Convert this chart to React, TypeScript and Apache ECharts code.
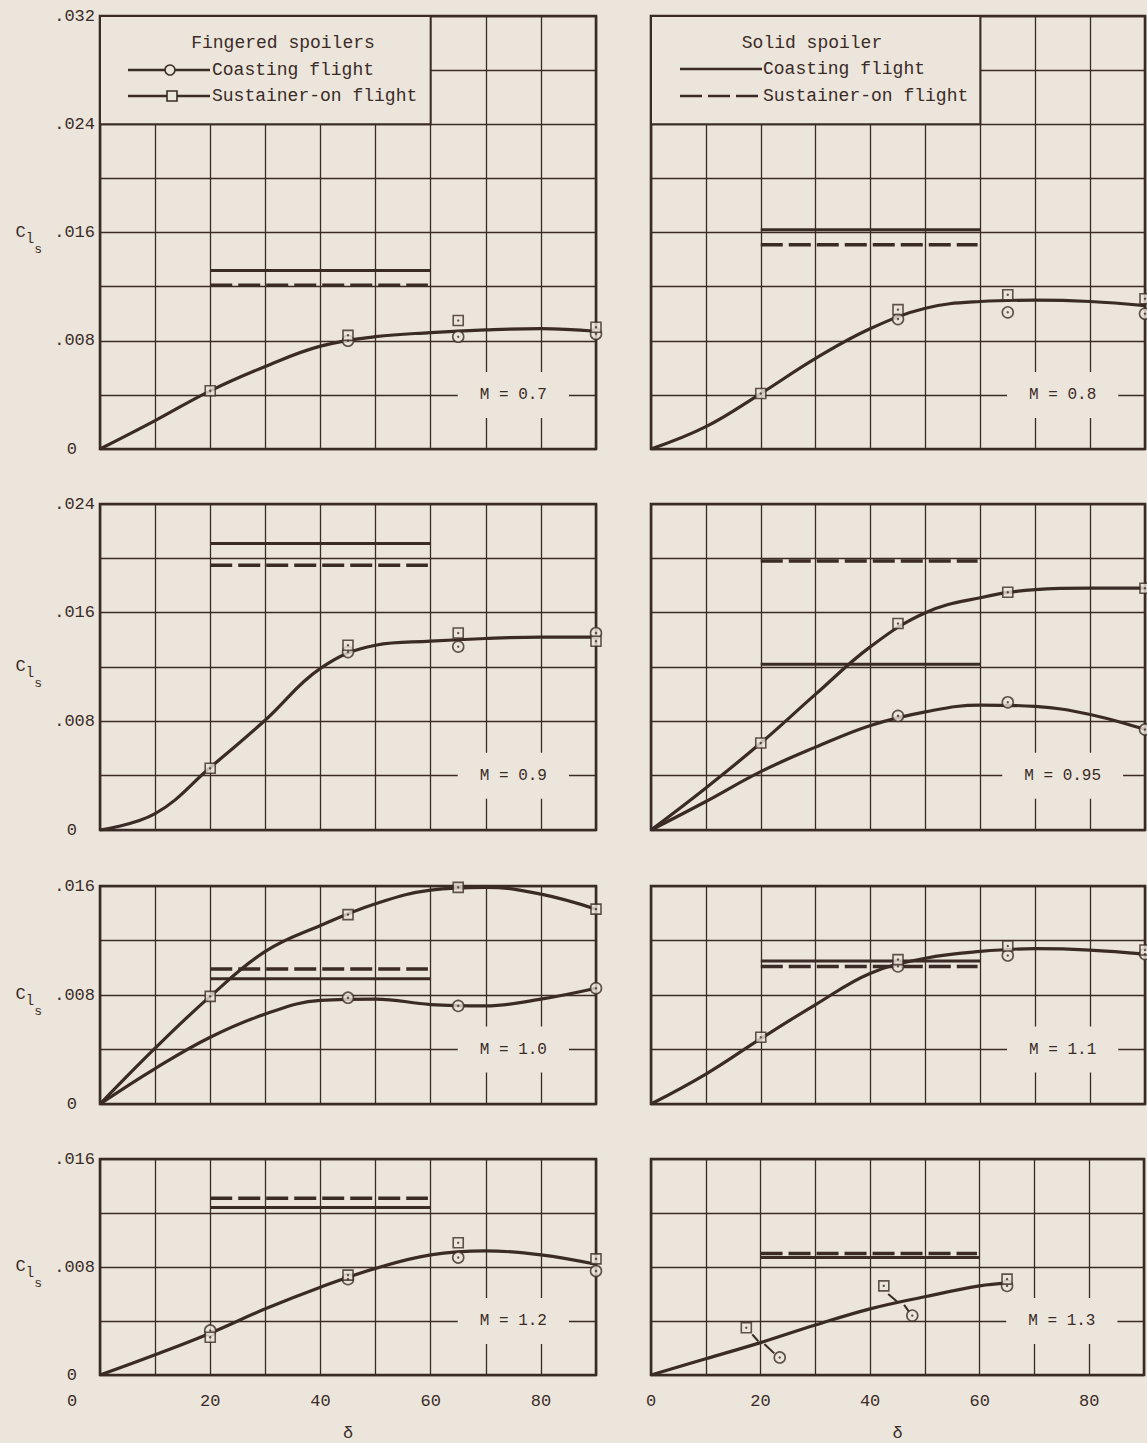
import React, { useEffect, useRef } from 'react';
import * as echarts from 'echarts';

const PAPER = '#ebe5db';
const INK = '#3b2b27';
const FONT = '"Liberation Mono", "DejaVu Sans Mono", monospace';

const PAGE_W = 1147;
const PAGE_H = 1443;

// layout (pixels)
const COL_LEFT = [100, 651];
const COL_WIDTH = [496, 494];
const ROW_TOP = [16, 504, 886, 1159];
const ROW_HEIGHT = [433, 326, 218, 218];

// axes
const DELTA_MAX = 90;
const DELTA_STEP = 10;
const X_LABEL_STEP = 20;
const C_STEP = 0.004;
const ROW_C_MAX = [0.032, 0.024, 0.016, 0.016];
const Y_LABEL_STEP_MILLI = 8;

const MACH = ['0.7', '0.8', '0.9', '0.95', '1.0', '1.1', '1.2', '1.3'];
const MACH_LABEL_AT = [75, 0.004];

// curve abscissae
const curveDelta = [0, 10, 20, 30, 40, 50, 60, 70, 80, 90];
const m13CurveDelta = [0, 10, 20, 30, 40, 50, 60, 65];

// faired curves
const m07Curve = [0, 0.0021, 0.0043, 0.0061, 0.0076, 0.0083, 0.0086, 0.0088, 0.0089, 0.0087];
const m08Curve = [0, 0.00165, 0.0041, 0.0067, 0.0089, 0.0104, 0.0109, 0.011, 0.0109, 0.0106];
const m09Curve = [0, 0.0012, 0.0046, 0.0081, 0.0119, 0.0136, 0.0139, 0.0141, 0.0142, 0.0142];
const m095SustainerCurve = [0, 0.0031, 0.0064, 0.01, 0.0135, 0.016, 0.0171, 0.0177, 0.0178, 0.0178];
const m095CoastingCurve = [0, 0.0021, 0.0043, 0.0061, 0.0077, 0.0087, 0.0092, 0.0091, 0.0085, 0.0074];
const m10SustainerCurve = [0, 0.0041, 0.0079, 0.0112, 0.0131, 0.0147, 0.0157, 0.0159, 0.0154, 0.0143];
const m10CoastingCurve = [0, 0.0026, 0.0049, 0.0066, 0.0076, 0.0077, 0.0073, 0.0072, 0.0077, 0.0085];
const m11Curve = [0, 0.0022, 0.0048, 0.0073, 0.0096, 0.0107, 0.0112, 0.0114, 0.0113, 0.011];
const m12Curve = [0, 0.0015, 0.0031, 0.0049, 0.0065, 0.0079, 0.0089, 0.0092, 0.0089, 0.0082];
const m13Curve = [0, 0.0012, 0.0024, 0.0037, 0.0049, 0.0058, 0.0066, 0.0068];

// measured points [delta, C]
const m07Coasting = [[45, 0.008], [65, 0.0083], [90, 0.0085]];
const m07Sustainer = [[20, 0.0043], [45, 0.0084], [65, 0.0095], [90, 0.009]];
const m08Coasting = [[45, 0.0096], [65, 0.0101], [90, 0.01]];
const m08Sustainer = [[20, 0.0041], [45, 0.0103], [65, 0.0114], [90, 0.0111]];
const m09Coasting = [[45, 0.0131], [65, 0.0135], [90, 0.0145]];
const m09Sustainer = [[20, 0.00455], [45, 0.0136], [65, 0.0145], [90, 0.0139]];
const m095Coasting = [[45, 0.0084], [65, 0.0094], [90, 0.0074]];
const m095Sustainer = [[20, 0.0064], [45, 0.0152], [65, 0.0175], [90, 0.0178]];
const m10Coasting = [[45, 0.0078], [65, 0.0072], [90, 0.0085]];
const m10Sustainer = [[20, 0.0079], [45, 0.0139], [65, 0.0159], [90, 0.0143]];
const m11Coasting = [[45, 0.0101], [65, 0.0109], [90, 0.011]];
const m11Sustainer = [[20, 0.0049], [45, 0.0106], [65, 0.0116], [90, 0.0113]];
const m12Coasting = [[20, 0.0033], [45, 0.0071], [65, 0.0087], [90, 0.0077]];
const m12Sustainer = [[20, 0.0028], [45, 0.0074], [65, 0.0098], [90, 0.0086]];
const m13Coasting = [[23.5, 0.0013], [47.7, 0.0044], [65, 0.0066]];
const m13Sustainer = [[17.4, 0.0035], [42.5, 0.0066], [65, 0.0071]];
const m13Leaders = [
  [[18.5, 0.003], [19.6, 0.0025]],
  [[20.7, 0.0023], [22.5, 0.0016]],
  [[43.3, 0.006], [45.0, 0.0054]],
  [[46.2, 0.0052], [47.1, 0.0047]],
];

// solid-spoiler reference levels (per panel)
const refDeltaRange = [20, 60];
const refDashedEnd = 59.5;
const solidCoasting = [0.0132, 0.0162, 0.0211, 0.0122, 0.0092, 0.0105, 0.0124, 0.0087];
const solidSustainer = [0.0121, 0.0151, 0.0195, 0.0198, 0.0099, 0.0101, 0.0131, 0.009];

const zip = (xs: number[], ys: number[]) => ys.map((y, i) => [xs[i], y]);

const PANELS = [
  { curves: [zip(curveDelta, m07Curve)], coasting: m07Coasting, sustainer: m07Sustainer },
  { curves: [zip(curveDelta, m08Curve)], coasting: m08Coasting, sustainer: m08Sustainer },
  { curves: [zip(curveDelta, m09Curve)], coasting: m09Coasting, sustainer: m09Sustainer },
  { curves: [zip(curveDelta, m095SustainerCurve), zip(curveDelta, m095CoastingCurve)], coasting: m095Coasting, sustainer: m095Sustainer },
  { curves: [zip(curveDelta, m10SustainerCurve), zip(curveDelta, m10CoastingCurve)], coasting: m10Coasting, sustainer: m10Sustainer },
  { curves: [zip(curveDelta, m11Curve)], coasting: m11Coasting, sustainer: m11Sustainer },
  { curves: [zip(curveDelta, m12Curve)], coasting: m12Coasting, sustainer: m12Sustainer },
  { curves: [zip(m13CurveDelta, m13Curve)], coasting: m13Coasting, sustainer: m13Sustainer, leaders: m13Leaders },
];

function legendGraphics(): any[] {
  const els: any[] = [];
  const top = ROW_TOP[0];
  const bottom = ROW_TOP[0] + (1 - 0.024 / ROW_C_MAX[0]) * ROW_HEIGHT[0];
  const txt = (x: number, y: number, text: string, align: string) => ({
    type: 'text',
    z: 22,
    x,
    y,
    style: {
      text,
      fontSize: 18,
      fontFamily: 'Liberation Mono',
      fill: INK,
      textAlign: align,
      align,
      textVerticalAlign: 'middle',
      verticalAlign: 'middle',
    },
  });
  const ln = (x1: number, x2: number, y: number, dash?: number[]) => ({
    type: 'line',
    z: 21,
    shape: { x1, y1: y, x2, y2: y },
    style: { stroke: INK, lineWidth: 2.4, lineDash: dash || null },
  });
  [0, 1].forEach((c) => {
    const x0 = COL_LEFT[c];
    const x1 = COL_LEFT[c] + (60 / DELTA_MAX) * COL_WIDTH[c];
    els.push({
      type: 'rect',
      z: 20,
      shape: { x: x0, y: top, width: x1 - x0, height: bottom - top },
      style: { fill: PAPER, stroke: INK, lineWidth: 2 },
    });
  });
  // fingered spoilers legend
  {
    const x0 = COL_LEFT[0];
    const y0 = top;
    els.push(txt(x0 + 183, y0 + 27, 'Fingered spoilers', 'center'));
    els.push(ln(x0 + 28, x0 + 110, y0 + 54));
    els.push({ type: 'circle', z: 22, shape: { cx: x0 + 70, cy: y0 + 54, r: 5 }, style: { fill: PAPER, stroke: INK, lineWidth: 1.6 } });
    els.push(txt(x0 + 112, y0 + 54, 'Coasting flight', 'left'));
    els.push(ln(x0 + 28, x0 + 110, y0 + 80));
    els.push({ type: 'rect', z: 22, shape: { x: x0 + 67, y: y0 + 75, width: 10, height: 10 }, style: { fill: PAPER, stroke: INK, lineWidth: 1.6 } });
    els.push(txt(x0 + 112, y0 + 80, 'Sustainer-on flight', 'left'));
  }
  // solid spoiler legend
  {
    const x0 = COL_LEFT[1];
    const y0 = top;
    els.push(txt(x0 + 161, y0 + 27, 'Solid spoiler', 'center'));
    els.push(ln(x0 + 29, x0 + 111, y0 + 53));
    els.push(txt(x0 + 112, y0 + 53, 'Coasting flight', 'left'));
    els.push(ln(x0 + 29, x0 + 111, y0 + 80, [22, 6]));
    els.push(txt(x0 + 112, y0 + 80, 'Sustainer-on flight', 'left'));
  }
  return els;
}

function buildOption(): any {
  const grid: any[] = [];
  const xAxis: any[] = [];
  const yAxis: any[] = [];
  const series: any[] = [];

  PANELS.forEach((p, i) => {
    const row = Math.floor(i / 2);
    const col = i % 2;
    const bottomRow = row === 3;
    grid.push({
      left: COL_LEFT[col],
      top: ROW_TOP[row],
      width: COL_WIDTH[col],
      height: ROW_HEIGHT[row],
      show: true,
      borderColor: INK,
      borderWidth: 2.6,
      backgroundColor: 'transparent',
    });
    xAxis.push({
      gridIndex: i,
      type: 'value',
      min: 0,
      max: DELTA_MAX,
      interval: DELTA_STEP,
      axisLine: { show: false },
      axisTick: { show: false },
      splitLine: { show: true, lineStyle: { color: INK, width: 1.3 } },
      axisLabel: bottomRow
        ? {
            show: true,
            margin: 18,
            color: INK,
            fontFamily: FONT,
            fontSize: 17,
            formatter: (v: number) =>
              v === 0 ? (col === 0 ? '{z|0}' : '0') : v % X_LABEL_STEP === 0 ? String(v) : '',
            rich: { z: { padding: [0, 56, 0, 0], color: INK, fontFamily: FONT, fontSize: 17 } },
          }
        : { show: false },
      name: bottomRow ? 'δ' : '',
      nameLocation: 'middle',
      nameGap: 50,
      nameTextStyle: { color: INK, fontFamily: FONT, fontSize: 17 },
    });
    yAxis.push({
      gridIndex: i,
      type: 'value',
      min: 0,
      max: ROW_C_MAX[row],
      interval: C_STEP,
      axisLine: { show: false },
      axisTick: { show: false },
      splitLine: { show: true, lineStyle: { color: INK, width: 1.3 } },
      axisLabel:
        col === 0
          ? {
              show: true,
              margin: 5,
              color: INK,
              fontFamily: FONT,
              fontSize: 17,
              formatter: (v: number) => {
                const n = Math.round(v * 1000);
                if (n === 0) return '{z|0}';
                return n % Y_LABEL_STEP_MILLI === 0 ? '.' + String(n).padStart(3, '0') : '';
              },
              rich: { z: { padding: [0, 18, 0, 0], color: INK, fontFamily: FONT, fontSize: 17 } },
            }
          : { show: false },
      name: col === 0 ? '{c|C}{l|l}{s|s}' : '',
      nameLocation: 'middle',
      nameRotate: 0,
      nameGap: 58,
      nameTextStyle: {
        color: INK,
        fontFamily: FONT,
        rich: {
          c: { fontSize: 17, fontFamily: FONT, color: INK, verticalAlign: 'top', padding: [14, 0, 0, 0] },
          l: { fontSize: 14, fontFamily: FONT, color: INK, verticalAlign: 'top', padding: [22, 0, 0, 0] },
          s: { fontSize: 13, fontFamily: FONT, color: INK, verticalAlign: 'top', padding: [33, 0, 0, 0] },
        },
      },
    });

    const ax = { xAxisIndex: i, yAxisIndex: i };
    // solid-spoiler reference levels
    series.push({
      type: 'line',
      ...ax,
      data: refDeltaRange.map((d) => [d, solidCoasting[i]]),
      symbol: 'none',
      lineStyle: { color: INK, width: 3 },
      z: 2,
      silent: true,
    });
    series.push({
      type: 'line',
      ...ax,
      data: [[refDeltaRange[0], solidSustainer[i]], [refDashedEnd, solidSustainer[i]]],
      symbol: 'none',
      lineStyle: { color: INK, width: 3.5, type: [22, 6] },
      z: 2,
      silent: true,
    });
    p.curves.forEach((c) => {
      series.push({
        type: 'line',
        ...ax,
        data: c,
        smooth: 0.4,
        symbol: 'none',
        lineStyle: { color: INK, width: 3.2 },
        z: 3,
        silent: true,
      });
    });
    if ((p as any).leaders) {
      (p as any).leaders.forEach((seg: number[][]) => {
        series.push({
          type: 'line',
          ...ax,
          data: seg,
          symbol: 'none',
          lineStyle: { color: INK, width: 2 },
          z: 3,
          silent: true,
        });
      });
    }
    series.push({
      type: 'scatter',
      ...ax,
      data: p.coasting,
      symbol: 'circle',
      symbolSize: 11,
      itemStyle: { color: PAPER, borderColor: INK, borderWidth: 1.6 },
      z: 4,
      silent: true,
    });
    series.push({
      type: 'scatter',
      ...ax,
      data: p.sustainer,
      symbol: 'rect',
      symbolSize: 10,
      itemStyle: { color: PAPER, borderColor: INK, borderWidth: 1.6 },
      z: 4,
      silent: true,
    });
    series.push({
      type: 'scatter',
      ...ax,
      data: [...p.coasting, ...p.sustainer],
      symbol: 'circle',
      symbolSize: 2.4,
      itemStyle: { color: INK },
      z: 5,
      silent: true,
    });
    series.push({
      type: 'scatter',
      ...ax,
      data: [MACH_LABEL_AT],
      symbol: 'rect',
      symbolSize: 1,
      itemStyle: { color: PAPER, opacity: 1 },
      z: 6,
      silent: true,
      label: {
        show: true,
        position: 'inside',
        formatter: 'M = ' + MACH[i],
        color: INK,
        opacity: 1,
        fontFamily: FONT,
        fontSize: 16,
        backgroundColor: PAPER,
        padding: [15, 22],
      },
    });
  });

  return {
    animation: false,
    backgroundColor: PAPER,
    textStyle: { fontFamily: FONT, color: INK },
    grid,
    xAxis,
    yAxis,
    series,
    graphic: { elements: legendGraphics() },
  };
}

export default function App() {
  const ref = useRef<HTMLDivElement>(null);
  useEffect(() => {
    if (!ref.current) return;
    const chart = echarts.init(ref.current, null, { renderer: 'svg' });
    chart.setOption(buildOption());
    return () => chart.dispose();
  }, []);
  return (
    <div
      ref={ref}
      style={{ position: 'absolute', left: 0, top: 0, width: PAGE_W, height: PAGE_H }}
    />
  );
}
